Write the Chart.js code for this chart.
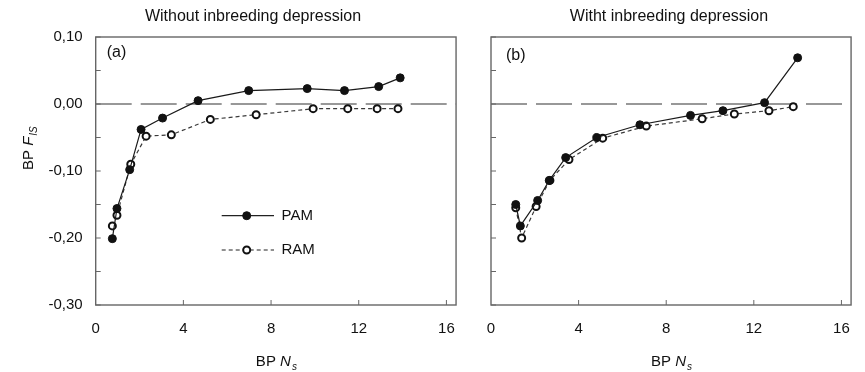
<!DOCTYPE html>
<html>
<head>
<meta charset="utf-8">
<script src="https://cdn.jsdelivr.net/npm/chart.js@4/dist/chart.umd.min.js"></script>
<style>
html,body{margin:0;padding:0;background:#fff;}
#wrap{position:relative;width:865px;height:372px;overflow:hidden;}
canvas{position:absolute;top:0;}
</style>
</head>
<body>
<div id="wrap">
<canvas id="ca" width="470" height="372" style="left:0px;width:470px;height:372px"></canvas>
<canvas id="cb" width="395" height="372" style="left:470px;width:395px;height:372px"></canvas>
</div>
<script>
// ---- data ----
const xTicks = [0, 4, 8, 12, 16];
const yTicks = [-0.30, -0.20, -0.10, 0.00, 0.10];
const yMinorTicks = [-0.30, -0.25, -0.20, -0.15, -0.10, -0.05, 0.00, 0.05, 0.10];

const titleA = "Without inbreeding depression";
const titleB = "Witht inbreeding depression";
const seriesNames = ["PAM", "RAM"];

const pamA_x = [0.76, 0.97, 1.55, 2.07, 3.05, 4.67, 6.98, 9.65, 11.35, 12.91, 13.89];
const pamA_y = [-0.201, -0.156, -0.098, -0.038, -0.021, 0.005, 0.020, 0.023, 0.020, 0.026, 0.039];
const ramA_x = [0.76, 0.97, 1.60, 2.30, 3.45, 5.23, 7.32, 9.92, 11.50, 12.84, 13.79];
const ramA_y = [-0.182, -0.166, -0.090, -0.048, -0.046, -0.023, -0.016, -0.007, -0.007, -0.007, -0.007];

const pamB_x = [1.13, 1.34, 2.13, 2.66, 3.41, 4.83, 6.80, 9.11, 10.59, 12.49, 14.00];
const pamB_y = [-0.150, -0.182, -0.144, -0.114, -0.080, -0.050, -0.031, -0.017, -0.010, 0.002, 0.069];
const ramB_x = [1.13, 1.40, 2.06, 2.69, 3.56, 5.10, 7.09, 9.64, 11.11, 12.69, 13.80];
const ramB_y = [-0.155, -0.200, -0.153, -0.114, -0.083, -0.051, -0.033, -0.022, -0.015, -0.010, -0.004];

const refValue = 0.0;

// ---- helpers ----
const FONT = "Arial, 'Liberation Sans', sans-serif";
const toPts = (xs, ys) => xs.map((x, i) => ({x: x, y: ys[i]}));
const fmt = v => v.toFixed(2).replace('.', ',');

function pamDs(xs, ys) {
  return {label: seriesNames[0], data: toPts(xs, ys), borderColor: '#1a1a1a', borderWidth: 1.2,
    pointRadius: 4, pointHoverRadius: 4, pointBackgroundColor: '#111', pointBorderColor: '#111',
    pointBorderWidth: 1, tension: 0, fill: false, order: 1};
}
function ramDs(xs, ys) {
  return {label: seriesNames[1], data: toPts(xs, ys), borderColor: '#3a3a3a', borderWidth: 1.2,
    borderDash: [4, 3], pointRadius: 3.5, pointHoverRadius: 3.5, pointBackgroundColor: '#fff',
    pointBorderColor: '#111', pointBorderWidth: 2, tension: 0, fill: false, order: 2};
}

const framePlugin = {
  id: 'frame',
  beforeDatasetsDraw(chart) {
    const {ctx, chartArea: a, scales: {y}} = chart;
    const py = y.getPixelForValue(refValue);
    ctx.save();
    ctx.strokeStyle = '#777';
    ctx.lineWidth = 1.5;
    ctx.setLineDash([36, 9]);
    ctx.beginPath();
    ctx.moveTo(a.left, py);
    ctx.lineTo(a.right, py);
    ctx.stroke();
    ctx.restore();
  },
  afterDraw(chart) {
    const {ctx, chartArea: a, scales: {x, y}} = chart;
    const o = chart.options.plugins.frame;
    ctx.save();
    ctx.strokeStyle = '#666';
    ctx.lineWidth = 1.4;
    ctx.setLineDash([]);
    ctx.strokeRect(a.left, a.top, a.right - a.left, a.bottom - a.top);
    ctx.lineWidth = 1;
    ctx.beginPath();
    xTicks.forEach(v => {
      if (v <= 0) return;
      const px = x.getPixelForValue(v);
      ctx.moveTo(px, a.bottom);
      ctx.lineTo(px, a.bottom - 5);
    });
    yMinorTicks.forEach(v => {
      const py = y.getPixelForValue(v);
      ctx.moveTo(a.left, py);
      ctx.lineTo(a.left + 5, py);
    });
    ctx.stroke();
    // panel letter
    ctx.fillStyle = '#111';
    ctx.font = '16px ' + FONT;
    ctx.textBaseline = 'middle';
    ctx.textAlign = 'left';
    ctx.fillText(o.letter, a.left + o.letterDx, a.top + o.letterDy);
    // title
    ctx.textAlign = 'center';
    ctx.textBaseline = 'alphabetic';
    ctx.font = '16px ' + FONT;
    ctx.fillText(o.title, o.titleX, 21);
    // x axis title: BP N_s
    const cx = (a.left + a.right) / 2;
    const base = 365.5;
    ctx.textAlign = 'left';
    ctx.font = '15px ' + FONT;
    const t1 = 'BP ';
    const w1 = ctx.measureText(t1).width;
    ctx.font = 'italic 15px ' + FONT;
    const w2 = ctx.measureText('N').width;
    ctx.font = 'italic 10px ' + FONT;
    const w3 = ctx.measureText('s').width;
    let sx = cx - (w1 + w2 + w3) / 2;
    ctx.font = '15px ' + FONT;
    ctx.fillText(t1, sx, base);
    ctx.font = 'italic 15px ' + FONT;
    ctx.fillText('N', sx + w1, base);
    ctx.font = 'italic 10px ' + FONT;
    ctx.fillText('s', sx + w1 + w2 + 1, base + 4);
    // y axis title
    if (o.yTitle) {
      ctx.save();
      ctx.translate(33, 170);
      ctx.rotate(-Math.PI / 2);
      ctx.font = '15px ' + FONT;
      ctx.fillText('BP ', 0, 0);
      const u1 = ctx.measureText('BP ').width;
      ctx.font = 'italic 15px ' + FONT;
      ctx.fillText('F', u1, 0);
      const u2 = ctx.measureText('F').width;
      ctx.font = 'italic 10px ' + FONT;
      ctx.fillText('IS', u1 + u2 + 1, 4);
      ctx.restore();
    }
    // legend
    if (o.legend) {
      const lx0 = 221.7, lx1 = 274, mx = 246.7, tx = 281.5;
      const rows = [{y: 215.7, dash: [], fill: '#111', r: 4, name: seriesNames[0]},
                    {y: 250, dash: [4, 3], fill: '#fff', r: 3.5, name: seriesNames[1]}];
      rows.forEach(r => {
        ctx.setLineDash(r.dash);
        ctx.strokeStyle = '#222';
        ctx.lineWidth = 1.2;
        ctx.beginPath();
        ctx.moveTo(lx0, r.y);
        ctx.lineTo(lx1, r.y);
        ctx.stroke();
        ctx.setLineDash([]);
        ctx.beginPath();
        ctx.arc(mx, r.y, r.r, 0, Math.PI * 2);
        ctx.fillStyle = r.fill;
        ctx.fill();
        ctx.lineWidth = r.fill === '#fff' ? 2 : 1;
        ctx.strokeStyle = '#111';
        ctx.stroke();
        ctx.fillStyle = '#111';
        ctx.font = '15px ' + FONT;
        ctx.textBaseline = 'middle';
        ctx.textAlign = 'left';
        ctx.fillText(r.name, tx, r.y);
      });
    }
    ctx.restore();
  }
};

function makeChart(id, datasets, opts) {
  return new Chart(document.getElementById(id), {
    type: 'line',
    data: {datasets: datasets},
    plugins: [framePlugin],
    options: {
      responsive: false,
      animation: false,
      events: [],
      layout: {padding: {left: 0, right: opts.padRight, top: 37, bottom: 0}},
      plugins: {
        legend: {display: false},
        tooltip: {enabled: false},
        frame: opts.frame
      },
      scales: {
        x: {
          type: 'linear', min: 0, max: 16.44,
          afterBuildTicks: ax => { ax.ticks = xTicks.map(v => ({value: v})); },
          afterFit: ax => { ax.height = 67; },
          grid: {display: false, drawTicks: false},
          border: {display: false},
          ticks: {padding: 15, color: '#111', font: {family: FONT, size: 15}, maxRotation: 0,
                  callback: v => String(v)}
        },
        y: {
          type: 'linear', min: -0.30, max: 0.10,
          afterBuildTicks: ax => { ax.ticks = yTicks.map(v => ({value: v})); },
          afterFit: ax => { ax.width = opts.yWidth; },
          grid: {display: false, drawTicks: false},
          border: {display: false},
          ticks: {display: opts.yLabels, padding: 13, color: '#111', font: {family: FONT, size: 15},
                  callback: v => fmt(v)}
        }
      }
    }
  });
}

makeChart('ca', [pamDs(pamA_x, pamA_y), ramDs(ramA_x, ramA_y)], {
  padRight: 9.3, yWidth: 95.7, yLabels: true,
  frame: {letter: '(a)', letterDx: 11, letterDy: 15.5, title: titleA, titleX: 253, yTitle: true, legend: true}
});
makeChart('cb', [pamB_x && pamDs(pamB_x, pamB_y), ramDs(ramB_x, ramB_y)], {
  padRight: 8.3, yWidth: 21, yLabels: false,
  frame: {letter: '(b)', letterDx: 15, letterDy: 19, title: titleB, titleX: 199, yTitle: false, legend: false}
});
</script>
</body>
</html>
